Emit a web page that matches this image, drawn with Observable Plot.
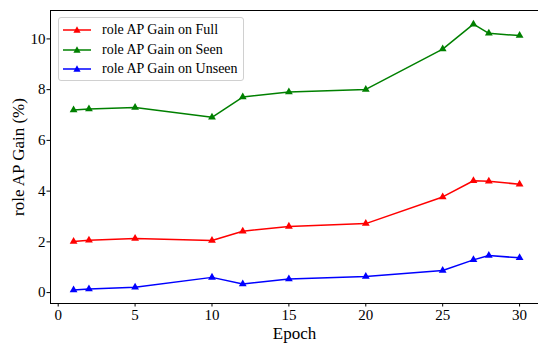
<!DOCTYPE html>
<html>
<head>
<meta charset="utf-8">
<script src="https://cdn.jsdelivr.net/npm/d3@7"></script>
<script src="https://cdn.jsdelivr.net/npm/@observablehq/plot@0.6"></script>
<style>
  html, body { margin: 0; padding: 0; background: white; }
  #wrap { position: relative; width: 538px; height: 343px; }
  #wrap svg text { font-family: "Liberation Serif", "Times New Roman", serif !important; font-size: 15px; fill: black; }
  #legend {
    position: absolute; left: 58px; top: 17px; width: 186px; height: 64px;
    box-sizing: border-box; border: 1px solid #d0d0d0; border-radius: 3px;
    background: rgba(255,255,255,0.85); font-family: "Liberation Serif", "Times New Roman", serif; font-size: 14px;
    padding-top: 2px;
  }
  .row { display: flex; align-items: center; height: 19.8px; }
  .row svg { margin-left: 4px; margin-right: 11px; }
  #wrap g[aria-label="x-axis label"] text, #wrap g[aria-label="y-axis label"] text { font-size: 17px; }
</style>
</head>
<body>
<div id="wrap"></div>
<script>
const epochs = [1, 2, 5, 10, 12, 15, 20, 25, 27, 28, 30];
const fullGain   = [2.01, 2.06, 2.13, 2.05, 2.42, 2.61, 2.72, 3.77, 4.41, 4.39, 4.27];
const seenGain   = [7.20, 7.24, 7.30, 6.91, 7.71, 7.91, 8.01, 9.60, 10.58, 10.22, 10.13];
const unseenGain = [0.10, 0.14, 0.21, 0.60, 0.34, 0.54, 0.63, 0.87, 1.29, 1.46, 1.37];
const seriesNames = ["role AP Gain on Full", "role AP Gain on Seen", "role AP Gain on Unseen"];
const seriesColors = ["red", "green", "blue"];
const xTicks = [0, 5, 10, 15, 20, 25, 30];
const yTicks = [0, 2, 4, 6, 8, 10];

const allSeries = [fullGain, seenGain, unseenGain];
const data = allSeries.flatMap((vals, i) => vals.map((v, j) => ({epoch: epochs[j], gain: v, series: seriesNames[i]})));

const colorScale = {domain: seriesNames, range: seriesColors};

const chart = Plot.plot({
  width: 538, height: 343,
  marginLeft: 50, marginRight: 0, marginTop: 10, marginBottom: 40,
  x: {domain: [-0.5, 31.23]},
  y: {domain: [-0.43, 11.12]},
  color: colorScale,
  style: {fontFamily: "Liberation Serif", fontSize: "15px", color: "black", background: "white"},
  marks: [
    Plot.axisX({ticks: xTicks, tickSize: 3.5, tickPadding: 2, label: "Epoch", labelAnchor: "center", labelArrow: "none", labelOffset: 35}),
    Plot.axisY({ticks: yTicks, tickSize: 3.5, tickPadding: 1.5, label: "role AP Gain (%)", labelAnchor: "center", labelArrow: "none", labelOffset: 39}),
    Plot.lineY(data, {x: "epoch", y: "gain", stroke: "series", strokeWidth: 1.5}),
    Plot.dot(data, {x: "epoch", y: "gain", fill: "series", symbol: "triangle", r: 2.9}),
    Plot.frame({anchor: "left", stroke: "black"}),
    Plot.frame({anchor: "top", stroke: "black"}),
    Plot.frame({anchor: "bottom", stroke: "black"})
  ]
});
const wrap = document.getElementById("wrap");
wrap.appendChild(chart);

const legend = document.createElement("div");
legend.id = "legend";
seriesNames.forEach((name, i) => {
  const row = document.createElement("div");
  row.className = "row";
  const c = seriesColors[i];
  row.innerHTML = `<svg width="28" height="10"><line x1="0" y1="5" x2="28" y2="5" stroke="${c}" stroke-width="1.5"/><path d="M14,1.3 L17.6,7.8 L10.4,7.8 Z" fill="${c}"/></svg><span>${name}</span>`;
  legend.appendChild(row);
});
wrap.appendChild(legend);
</script>
</body>
</html>
